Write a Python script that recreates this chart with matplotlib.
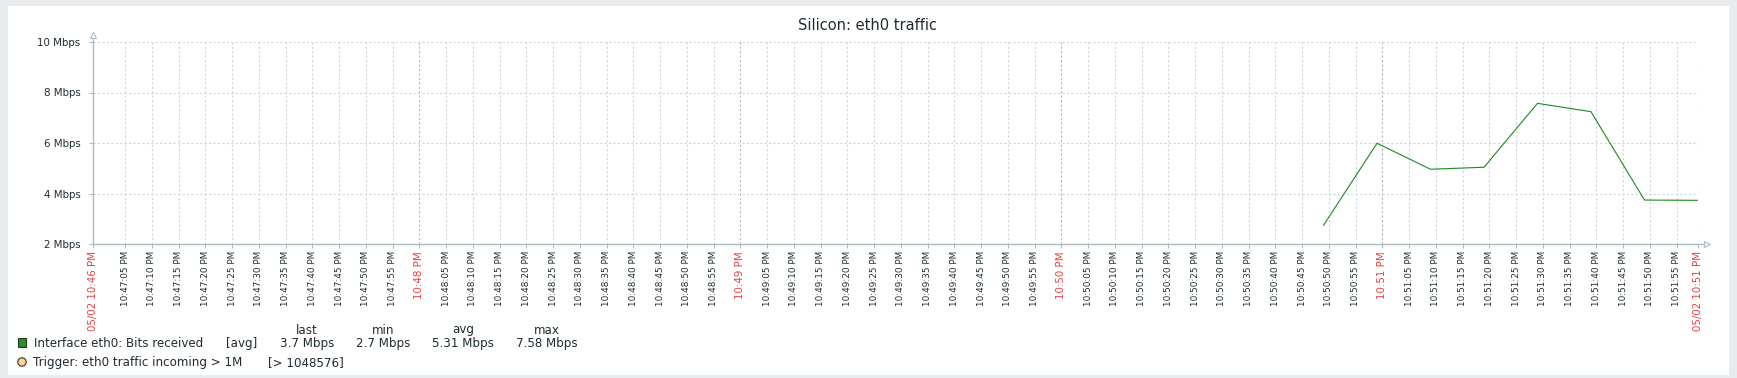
import matplotlib.pyplot as plt
from matplotlib.patches import Rectangle, Circle

W, H, DPI = 1737, 378, 100

# data: sample times (seconds after 10:46:59 PM) and received bits (Mbps)
START = (22, 46, 59)
sample_times = ["22:50:49", "22:50:59", "22:51:09", "22:51:19",
                "22:51:29", "22:51:39", "22:51:49", "22:51:59"]
bits_mbps = [2.74, 5.99, 4.96, 5.04, 7.57, 7.24, 3.74, 3.73]

y_ticks = [2, 4, 6, 8, 10]
legend_cols = ["last", "min", "avg", "max"]
legend_vals = ["3.7 Mbps", "2.7 Mbps", "5.31 Mbps", "7.58 Mbps"]
legend_item = "Interface eth0: Bits received"
trigger_item = "Trigger: eth0 traffic incoming > 1M"
trigger_val = "[> 1048576]"

TXT = "#1f2c33"
AXC = "#acbbc2"
GRID = "#cdd6da"
GRID_MIN = "#a9b8c0"
RED = "#e8413f"


def secs(hms):
    h, m, s = map(int, hms.split(":"))
    return (h * 3600 + m * 60 + s) - (START[0] * 3600 + START[1] * 60 + START[2])


def fx(px):
    return px / W


def fy(py):
    return 1 - py / H


x = [secs(t) for t in sample_times]

fig = plt.figure(figsize=(W / DPI, H / DPI), dpi=DPI, facecolor="#e8ecef")
fig.add_artist(Rectangle((fx(8), fy(375)), fx(1729) - fx(8), fy(6) - fy(375),
                         transform=fig.transFigure, facecolor="white",
                         edgecolor="none", zorder=0))

ax = fig.add_axes([fx(93), fy(244), fx(1698) - fx(93), fy(42) - fy(244)])
ax.set_facecolor("none")
ax.set_xlim(0, 300)
ax.set_ylim(2, 10)

# x ticks every 5 seconds, minute marks in red
tick_pos = [0]
tick_lab = ["05/02 10:46 PM"]
t = 6
while t < 300:
    tot = START[1] * 60 + START[2] + t
    mm, ss = divmod(tot, 60)
    tick_pos.append(t)
    if ss == 0:
        tick_lab.append(f"10:{mm:02d} PM")
    else:
        tick_lab.append(f"10:{mm:02d}:{ss:02d} PM")
    t += 5
tick_pos.append(300)
tick_lab.append("05/02 10:51 PM")

ax.set_xticks(tick_pos)
ax.set_xticklabels(tick_lab, rotation=90, va="top", ha="center")
for lab in ax.get_xticklabels():
    txt = lab.get_text()
    if txt.count(":") == 1:
        lab.set_color(RED)
        lab.set_fontsize(7.4)
    else:
        lab.set_color(TXT)
        lab.set_fontsize(6.4)

ax.set_yticks(y_ticks)
ax.set_yticklabels([f"{v} Mbps" for v in y_ticks], fontsize=7.4, color=TXT)
ax.tick_params(axis="both", length=3, width=0.8, color=AXC)
ax.tick_params(axis="y", pad=6)
ax.tick_params(axis="x", pad=2)

for s in ax.spines.values():
    s.set_visible(False)

# grid
for p, lab in zip(tick_pos[1:], tick_lab[1:]):
    minute = lab.count(":") == 1
    ax.axvline(p, color=GRID_MIN if minute else GRID, lw=0.8,
               ls=(0, (2, 2)), zorder=1)
for v in y_ticks[1:]:
    ax.axhline(v, color=GRID, lw=0.8, ls=(0, (2, 2)), zorder=1)

# axes with open arrow heads
ax.plot([0, 0], [0, 1.025], transform=ax.transAxes, color=AXC, lw=1.0,
        clip_on=False, zorder=3)
ax.plot([0, 1.004], [0, 0], transform=ax.transAxes, color=AXC, lw=1.0,
        clip_on=False, zorder=3)
ax.plot([0], [1.035], transform=ax.transAxes, marker="^", ms=4.5,
        mfc="white", mec=AXC, mew=0.8, clip_on=False, zorder=4)
ax.plot([1.0055], [0], transform=ax.transAxes, marker=">", ms=4.5,
        mfc="white", mec=AXC, mew=0.8, clip_on=False, zorder=4)

ax.plot(x, bits_mbps, color="#1e8a1e", lw=0.8, zorder=5)

fig.text(fx(868), fy(29.5), "Silicon: eth0 traffic", fontsize=10.5, color=TXT,
         ha="center", va="baseline")

# legend
col_x = [307, 383, 463, 547]
for cx, head, val in zip(col_x, legend_cols, legend_vals):
    fig.text(fx(cx), fy(333.5), head, fontsize=8.6, color=TXT, ha="center", va="baseline")
    fig.text(fx(cx), fy(347), val, fontsize=8.6, color=TXT, ha="center", va="baseline")

fig.add_artist(Rectangle((fx(18), fy(346.7)), fx(8), 8.4 / H, transform=fig.transFigure,
                         facecolor="#2e8b2e", edgecolor="#1d3a1d", lw=0.8))
fig.text(fx(34), fy(347), legend_item, fontsize=8.6, color=TXT, ha="left", va="baseline")
fig.text(fx(242), fy(347), "[avg]", fontsize=8.6, color=TXT, ha="center", va="baseline")

fig.add_artist(Circle((22 / DPI, (H - 362) / DPI), 4.2 / DPI,
                      transform=fig.dpi_scale_trans, facecolor="#ffd38e",
                      edgecolor="#333333", lw=0.8))
fig.text(fx(33), fy(366), trigger_item, fontsize=8.6, color=TXT, ha="left", va="baseline")
fig.text(fx(268), fy(366), trigger_val, fontsize=8.6, color=TXT, ha="left", va="baseline")

fig.savefig("out.png", dpi=DPI, facecolor=fig.get_facecolor())
